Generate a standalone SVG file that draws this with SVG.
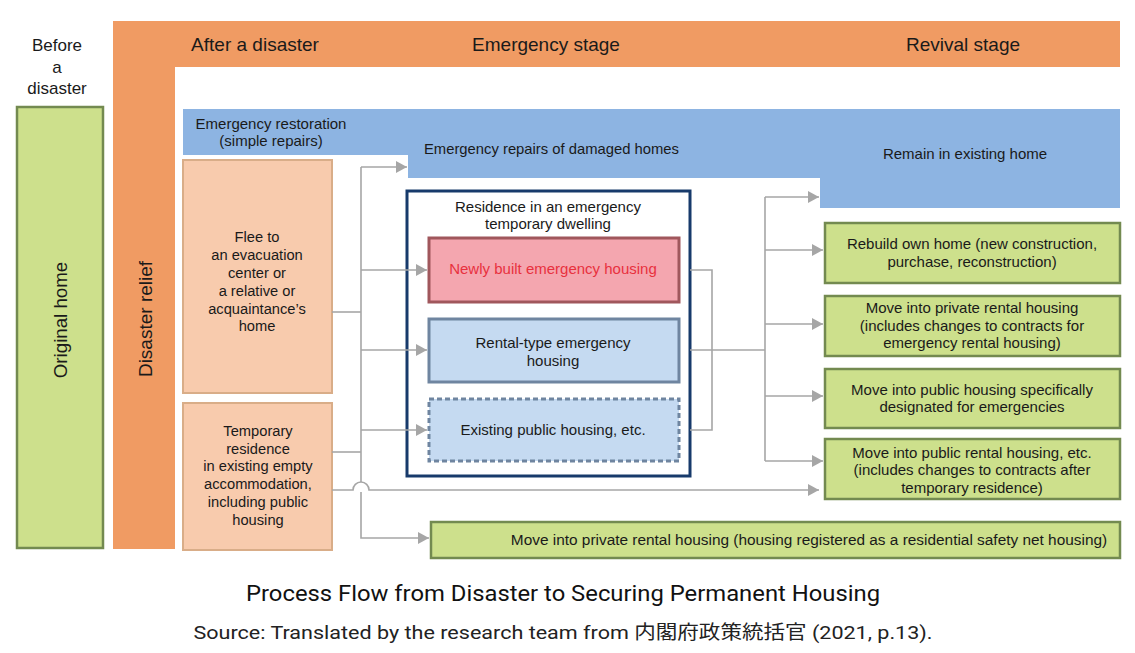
<svg xmlns="http://www.w3.org/2000/svg" width="1135" height="653" viewBox="0 0 1135 653">
<style>
text{font-family:"Liberation Sans","Noto Sans",Arial,sans-serif;fill:#1a1a1a;}
.t14{font-size:15px;text-anchor:middle;}
.pt{font-size:14.7px;text-anchor:middle;}
.hdr{font-size:19px;text-anchor:middle;}
.peach{fill:#F8CBAD;stroke:#D9AD88;stroke-width:2;}
.green{fill:#CDE08C;stroke:#738A50;stroke-width:2.5;}
.conn{fill:none;stroke:#A6A6A6;stroke-width:1.6;}
</style>
<defs>
<marker id="ah" markerUnits="userSpaceOnUse" markerWidth="11" markerHeight="12" refX="11" refY="6" orient="auto">
<path d="M0,0 L11,6 L0,12 z" fill="#A6A6A6"/>
</marker>
</defs>
<rect width="1135" height="653" fill="#ffffff"/>

<g id="frame">
<path d="M113,21 H1120 V67 H175 V549 H113 Z" fill="#F09B63"/>
<text class="hdr" x="255" y="51">After a disaster</text>
<text class="hdr" x="546" y="51">Emergency stage</text>
<text class="hdr" x="963" y="51">Revival stage</text>
</g>

<g id="before">
<text x="57" y="51" style="font-size:17px;text-anchor:middle">Before</text>
<text x="57" y="73" style="font-size:17px;text-anchor:middle">a</text>
<text x="57" y="94" style="font-size:17px;text-anchor:middle">disaster</text>
</g>

<g id="original-home">
<rect x="17" y="107" width="86" height="441" fill="#CDE08C" stroke="#738A50" stroke-width="2.5"/>
<text transform="translate(67,320) rotate(-90)" style="font-size:18.7px;text-anchor:middle">Original home</text>
</g>

<g id="disaster-relief">
<text transform="translate(152,319) rotate(-90)" style="font-size:19px;text-anchor:middle">Disaster relief</text>
</g>

<g id="emergency-restoration">
<path d="M183,109 H1120 V208 H820 V178 H408 V155 H183 Z" fill="#8DB4E2"/>
<text class="t14" x="271" y="129">Emergency restoration</text>
<text class="t14" x="271" y="146">(simple repairs)</text>
<text x="424" y="154" style="font-size:14.8px">Emergency repairs of damaged homes</text>
<text class="t14" x="965" y="159">Remain in existing home</text>
</g>

<g id="flee">
<rect class="peach" x="183" y="160" width="149" height="233"/>
<text class="pt" x="257" y="242">Flee to</text>
<text class="pt" x="257" y="260">an evacuation</text>
<text class="pt" x="257" y="278">center or</text>
<text class="pt" x="257" y="296">a relative or</text>
<text class="pt" x="257" y="314">acquaintance’s</text>
<text class="pt" x="257" y="331">home</text>
</g>

<g id="temporary-residence">
<rect class="peach" x="183" y="403" width="149" height="147"/>
<text class="pt" x="258" y="436">Temporary</text>
<text class="pt" x="258" y="454">residence</text>
<text class="pt" x="258" y="471">in existing empty</text>
<text class="pt" x="258" y="489">accommodation,</text>
<text class="pt" x="258" y="507">including public</text>
<text class="pt" x="258" y="525">housing</text>
</g>

<g id="emergency-dwelling">
<rect x="407" y="191" width="283" height="285" fill="#ffffff" stroke="#173A6B" stroke-width="3"/>
<text class="t14" x="548" y="212">Residence in an emergency</text>
<text class="t14" x="548" y="229">temporary dwelling</text>
</g>

<g id="newly-built">
<rect x="429" y="238" width="250" height="64" fill="#F4A6AF" stroke="#A0575C" stroke-width="3"/>
<text class="t14" x="553" y="274" style="fill:#E8313E">Newly built emergency housing</text>
</g>

<g id="rental-type">
<rect x="429" y="319" width="250" height="63" fill="#C5DAF1" stroke="#6F85A0" stroke-width="3"/>
<text class="t14" x="553" y="348">Rental-type emergency</text>
<text class="t14" x="553" y="366">housing</text>
</g>

<g id="existing-public">
<rect x="429" y="399" width="250" height="62" fill="#C5DAF1" stroke="#6F85A0" stroke-width="3" stroke-dasharray="5,3"/>
<text class="t14" x="553" y="435">Existing public housing, etc.</text>
</g>

<g id="rebuild">
<rect class="green" x="825" y="223" width="295" height="60"/>
<text class="t14" x="972" y="249">Rebuild own home (new construction,</text>
<text class="t14" x="972" y="267">purchase, reconstruction)</text>
</g>

<g id="private-rental">
<rect class="green" x="825" y="296" width="295" height="60"/>
<text class="t14" x="972" y="313">Move into private rental housing</text>
<text class="t14" x="972" y="331">(includes changes to contracts for</text>
<text class="t14" x="972" y="348">emergency rental housing)</text>
</g>

<g id="public-designated">
<rect class="green" x="825" y="369" width="295" height="59"/>
<text class="t14" x="972" y="395">Move into public housing specifically</text>
<text class="t14" x="972" y="412">designated for emergencies</text>
</g>

<g id="public-rental">
<rect class="green" x="825" y="439" width="295" height="60"/>
<text class="t14" x="972" y="458">Move into public rental housing, etc.</text>
<text class="t14" x="972" y="475">(includes changes to contracts after</text>
<text class="t14" x="972" y="493">temporary residence)</text>
</g>

<g id="safety-net">
<rect class="green" x="431" y="522" width="689" height="36"/>
<text x="809" y="545" style="font-size:15.4px;text-anchor:middle">Move into private rental housing (housing registered as a residential safety net housing)</text>
</g>

<g id="connectors">
<path class="conn" d="M332,312 H361"/>
<path class="conn" d="M332,452 H361"/>
<path class="conn" d="M361,167 V482"/>
<path class="conn" d="M361,492 V538 H429" marker-end="url(#ah)"/>
<path class="conn" d="M361,167 H407" marker-end="url(#ah)"/>
<path class="conn" d="M361,270 H427" marker-end="url(#ah)"/>
<path class="conn" d="M361,350 H427" marker-end="url(#ah)"/>
<path class="conn" d="M361,430 H427" marker-end="url(#ah)"/>
<path class="conn" d="M332,490 H353 A8,8 0 0 1 369,490 H819" marker-end="url(#ah)"/>
<path class="conn" d="M690,270 H712 V430 H690"/>
<path class="conn" d="M690,350 H765"/>
<path class="conn" d="M765,197 V461"/>
<path class="conn" d="M765,197 H819" marker-end="url(#ah)"/>
<path class="conn" d="M765,250 H823" marker-end="url(#ah)"/>
<path class="conn" d="M765,324 H823" marker-end="url(#ah)"/>
<path class="conn" d="M765,396 H823" marker-end="url(#ah)"/>
<path class="conn" d="M765,461 H823" marker-end="url(#ah)"/>
</g>

<g id="caption">
<text x="563" y="601" style="font-family:Roboto,'Liberation Sans',sans-serif;font-size:22px;text-anchor:middle;fill:#111" textLength="634" lengthAdjust="spacingAndGlyphs">Process Flow from Disaster to Securing Permanent Housing</text>
<text x="563" y="639" style="font-family:Roboto,'Noto Sans CJK JP',sans-serif;font-size:19px;text-anchor:middle;fill:#222" textLength="739" lengthAdjust="spacingAndGlyphs">Source: Translated by the research team from 内閣府政策統括官 (2021, p.13).</text>
</g>
</svg>
